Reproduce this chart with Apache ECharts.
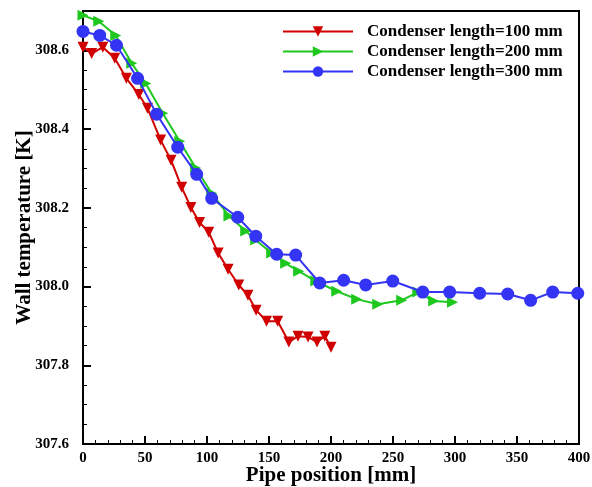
<!DOCTYPE html>
<html><head><meta charset="utf-8">
<script src="https://cdn.jsdelivr.net/npm/echarts@6/dist/echarts.min.js"></script>
<style>html,body{margin:0;padding:0;background:#fff}#c{width:592px;height:487px}</style>
</head><body><div id="c"></div>
<script>
// Condenser length = 100 mm
const redX = [0, 7, 16, 25.6, 35, 45, 52, 62.6, 71, 79.6, 87, 94, 101.4, 109, 117, 125.6, 133, 139.6, 148, 157, 166, 173.4, 181.5, 188.7, 195, 200];
const redY = [308.608, 308.592, 308.608, 308.580, 308.529, 308.488, 308.453, 308.372, 308.321, 308.252, 308.201, 308.163, 308.138, 308.085, 308.044, 308.004, 307.978, 307.940, 307.912, 307.912, 307.859, 307.874, 307.872, 307.859, 307.874, 307.846];
// Condenser length = 200 mm
const greenX = [0, 12.7, 26.4, 39.3, 50.6, 64.3, 78, 90.9, 103.8, 117.7, 131.2, 139.2, 152.1, 163.4, 173.9, 187.7, 204.6, 220.7, 237.7, 257, 270, 282.8, 298];
const greenY = [308.689, 308.674, 308.638, 308.567, 308.516, 308.440, 308.369, 308.301, 308.237, 308.179, 308.141, 308.118, 308.085, 308.059, 308.039, 308.014, 307.988, 307.968, 307.955, 307.965, 307.986, 307.963, 307.960];
// Condenser length = 300 mm
const blueX = [0, 13.5, 27, 44, 59.4, 76.4, 91.7, 103.8, 124.8, 139.3, 156.2, 171.5, 190.9, 210.2, 228, 249.8, 274, 295.7, 319.9, 342.5, 361, 378.8, 399];
const blueY = [308.648, 308.638, 308.613, 308.529, 308.438, 308.354, 308.285, 308.224, 308.176, 308.128, 308.082, 308.080, 308.009, 308.016, 308.004, 308.014, 307.986, 307.986, 307.983, 307.981, 307.965, 307.986, 307.983];
const seriesNames = ['Condenser length=100 mm', 'Condenser length=200 mm', 'Condenser length=300 mm'];
const xTitle = 'Pipe position [mm]';
const yTitle = 'Wall temperature [K]';

const zip = (xs, ys) => xs.map((x, i) => [x, ys[i]]);
const font = '"Liberation Serif", "Times New Roman", serif';
const chart = echarts.init(document.getElementById('c'), null, {renderer: 'canvas'});
const RED = '#d00000', GREEN = '#1ec81e', BLUE = '#3434f5';
const axisCommon = {
  axisLine: {show: true, onZero: false, lineStyle: {color: '#000', width: 2}},
  axisTick: {show: true, inside: true, length: 8, lineStyle: {color: '#000', width: 2}},
  minorTick: {show: true, length: 4, lineStyle: {color: '#000', width: 1}},
  splitLine: {show: false},
  axisLabel: {color: '#000', fontFamily: font, fontWeight: 'bold', fontSize: 15},
  nameTextStyle: {color: '#000', fontFamily: font, fontWeight: 'bold', fontSize: 21},
  nameMoveOverlap: false
};
chart.setOption({
  animation: false,
  grid: {left: 83, right: 13, top: 11, bottom: 43, show: true, borderColor: '#000', borderWidth: 2,
         backgroundColor: 'transparent', containLabel: false, outerBoundsMode: 'none'},
  legend: {
    orient: 'vertical', left: 277, top: 18, itemWidth: 70, itemHeight: 13, itemGap: 3,
    textStyle: {color: '#000', fontFamily: font, fontWeight: 'bold', fontSize: 17, padding: [0, 0, 0, 9]},
    data: seriesNames
  },
  xAxis: Object.assign({}, axisCommon, {
    type: 'value', min: 0, max: 400, interval: 50,
    minorTick: Object.assign({}, axisCommon.minorTick, {splitNumber: 5}),
    axisLabel: Object.assign({}, axisCommon.axisLabel, {margin: 7}),
    name: xTitle, nameLocation: 'middle', nameGap: 21
  }),
  yAxis: Object.assign({}, axisCommon, {
    type: 'value', min: 307.6, max: 308.7, interval: 0.2,
    minorTick: Object.assign({}, axisCommon.minorTick, {splitNumber: 4}),
    axisLabel: Object.assign({}, axisCommon.axisLabel, {margin: 14, showMaxLabel: false,
      formatter: v => (Math.abs(v - 308.7) < 1e-6 ? '' : v.toFixed(1))}),
    name: yTitle, nameLocation: 'middle', nameGap: 48
  }),
  series: [
    {name: seriesNames[0], type: 'line', data: zip(redX, redY), symbol: 'triangle', symbolRotate: 180, symbolSize: 11,
     lineStyle: {color: RED, width: 2}, itemStyle: {color: RED}, z: 3},
    {name: seriesNames[1], type: 'line', data: zip(greenX, greenY), symbol: 'triangle', symbolRotate: -90, symbolSize: 11,
     lineStyle: {color: GREEN, width: 2}, itemStyle: {color: GREEN}, z: 2},
    {name: seriesNames[2], type: 'line', data: zip(blueX, blueY), symbol: 'circle', symbolSize: 13,
     lineStyle: {color: BLUE, width: 2}, itemStyle: {color: BLUE}, z: 4}
  ]
});
</script></body></html>
